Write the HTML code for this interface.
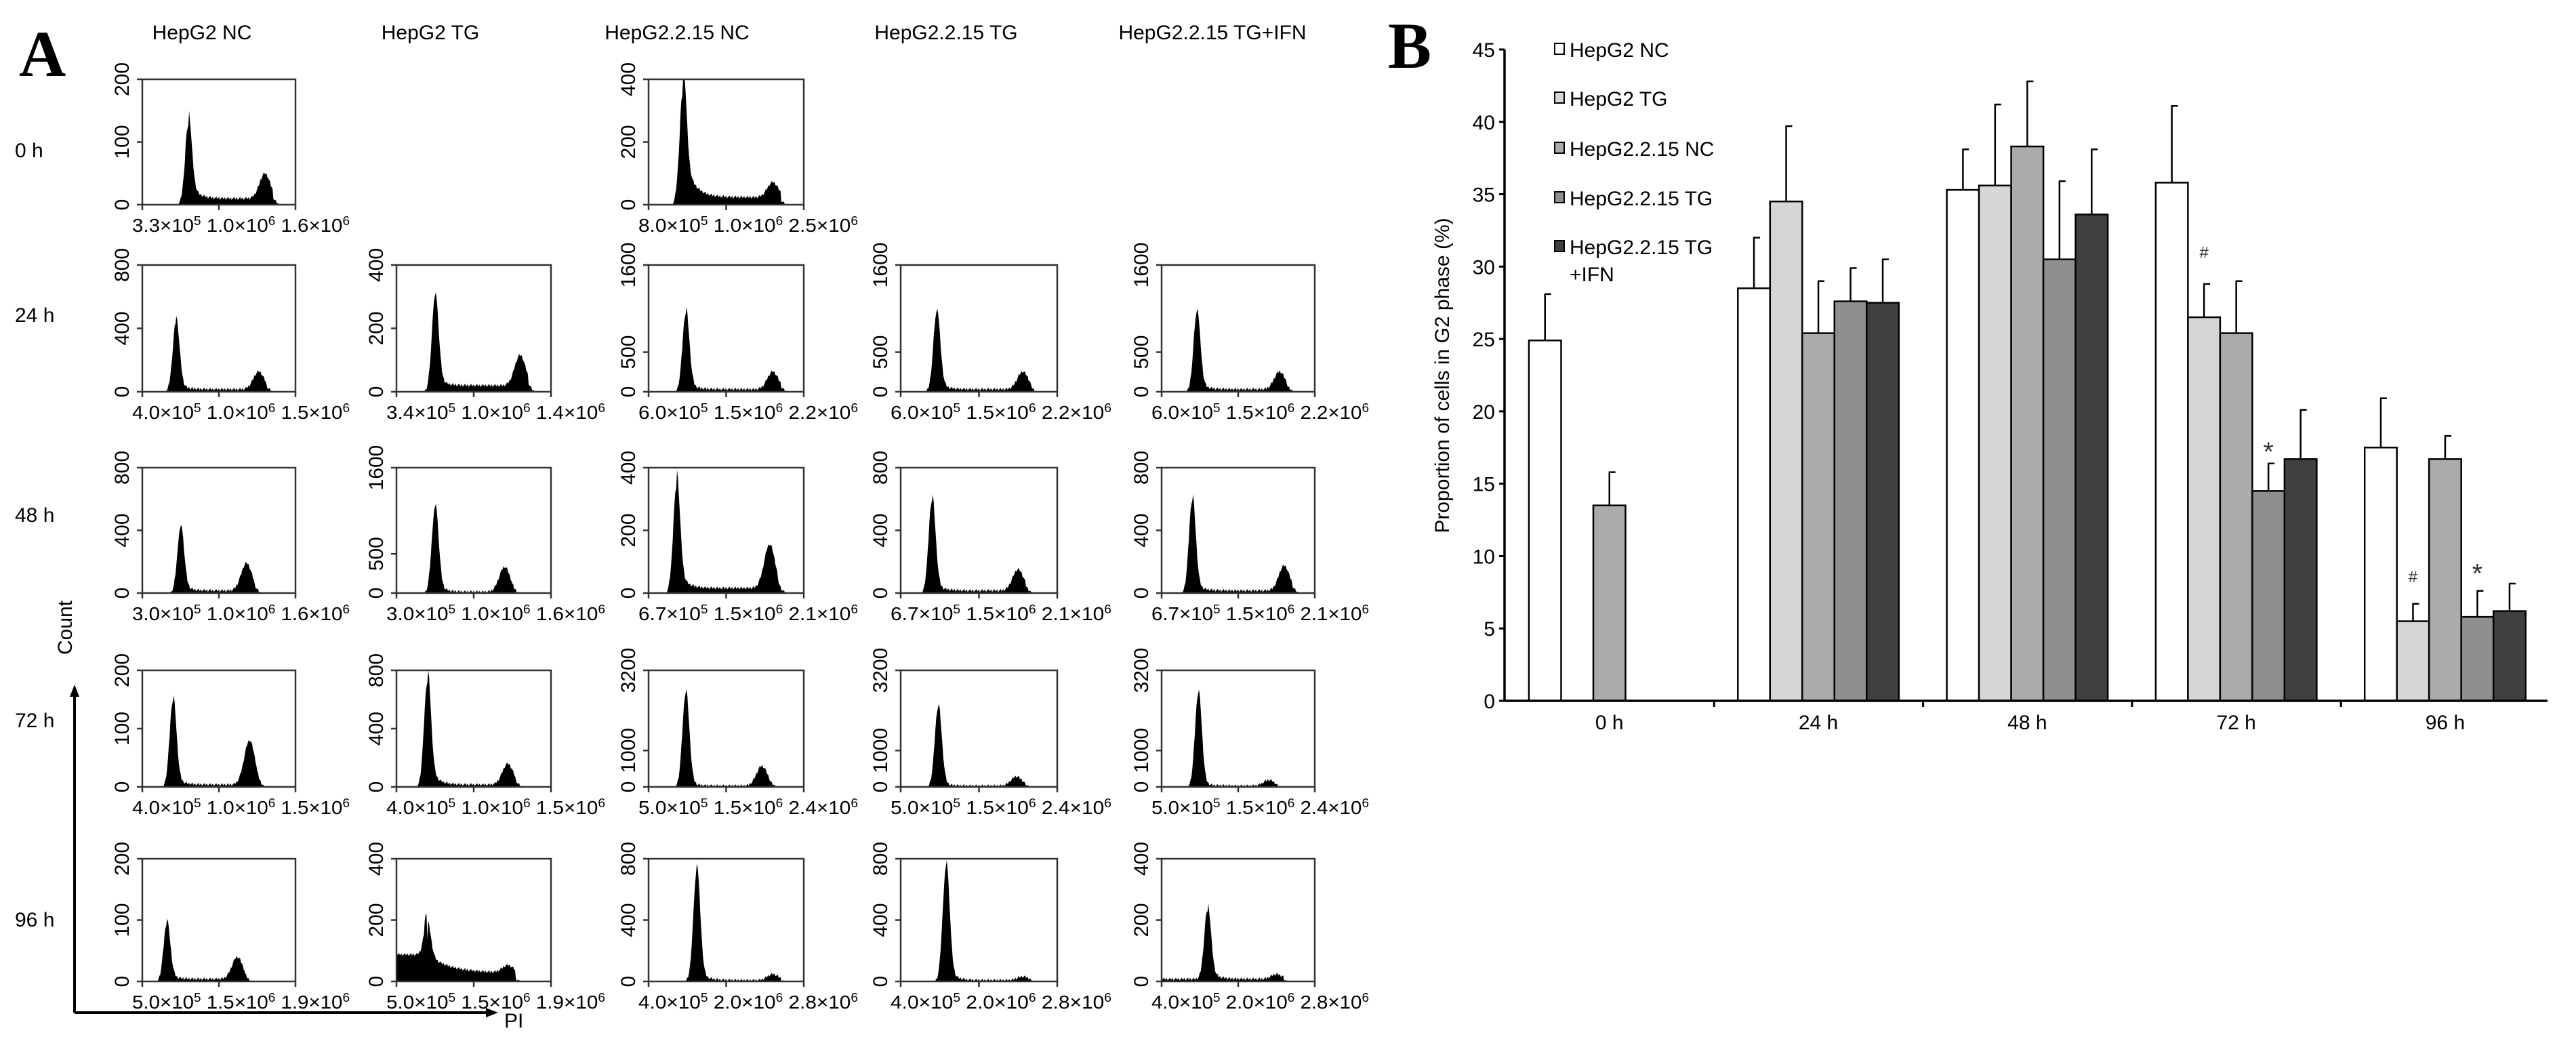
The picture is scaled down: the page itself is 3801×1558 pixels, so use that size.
<!DOCTYPE html>
<html><head><meta charset="utf-8"><style>
html,body{margin:0;padding:0;background:#fff;}
svg{display:block;font-family:"Liberation Sans",Arial,sans-serif;}
</style></head><body>
<svg id="fig" width="3801" height="1558" viewBox="0 0 3801 1558" xmlns="http://www.w3.org/2000/svg">
<rect width="3801" height="1558" fill="#fff"/>
<text x="28" y="112" font-family="Liberation Serif,serif" font-weight="bold" font-size="96">A</text>
<text x="2048" y="100" font-family="Liberation Serif,serif" font-weight="bold" font-size="96">B</text>
<g id="panelA"></g>
<g id="panelB"></g>
</svg>
<script>
// ---------- Panel A data ----------
const colTitles = ["HepG2 NC","HepG2 TG","HepG2.2.15 NC","HepG2.2.15 TG","HepG2.2.15 TG+IFN"];
const rowTitles = ["0 h","24 h","48 h","72 h","96 h"];
const yMax = [[200,null,400,null,null],[800,400,1600,1600,1600],[800,1600,400,800,800],[200,800,3200,3200,3200],[200,400,800,800,400]];
const yMid = [[100,null,200,null,null],[400,200,500,500,500],[400,500,200,400,400],[100,400,1000,1000,1000],[100,200,400,400,200]];
const xLabels = [
 [["3.3","5","1.0","6","1.6","6"],null,["8.0","5","1.0","6","2.5","6"],null,null],
 [["4.0","5","1.0","6","1.5","6"],["3.4","5","1.0","6","1.4","6"],["6.0","5","1.5","6","2.2","6"],["6.0","5","1.5","6","2.2","6"],["6.0","5","1.5","6","2.2","6"]],
 [["3.0","5","1.0","6","1.6","6"],["3.0","5","1.0","6","1.6","6"],["6.7","5","1.5","6","2.1","6"],["6.7","5","1.5","6","2.1","6"],["6.7","5","1.5","6","2.1","6"]],
 [["4.0","5","1.0","6","1.5","6"],["4.0","5","1.0","6","1.5","6"],["5.0","5","1.5","6","2.4","6"],["5.0","5","1.5","6","2.4","6"],["5.0","5","1.5","6","2.4","6"]],
 [["5.0","5","1.5","6","1.9","6"],["5.0","5","1.5","6","1.9","6"],["4.0","5","2.0","6","2.8","6"],["4.0","5","2.0","6","2.8","6"],["4.0","5","2.0","6","2.8","6"]]
];
// peaks: [G1 pos, G1 height, G2 pos, G2 height, S-level, tail amp, tail decay, left plateau]
const peaks = [
 [[0.30,0.58,0.80,0.20,0.05,0.25,0.05,0],null,[0.22,0.82,0.80,0.12,0.06,0.45,0.06,0],null,null],
 [[0.22,0.53,0.76,0.14,0.02,0.1,0.05,0],[0.25,0.70,0.80,0.24,0.05,0.1,0.05,0],[0.24,0.60,0.80,0.14,0.02,0.1,0.05,0],[0.23,0.60,0.78,0.14,0.02,0.1,0.05,0],[0.23,0.60,0.77,0.14,0.02,0.1,0.05,0]],
 [[0.25,0.50,0.68,0.22,0.02,0.1,0.05,0],[0.25,0.67,0.70,0.20,0.01,0.1,0.05,0],[0.18,0.80,0.78,0.35,0.04,0.2,0.05,0],[0.20,0.72,0.75,0.17,0.02,0.1,0.05,0],[0.20,0.72,0.80,0.20,0.02,0.1,0.05,0]],
 [[0.20,0.72,0.70,0.38,0.02,0.1,0.05,0],[0.20,0.88,0.72,0.18,0.02,0.2,0.05,0],[0.24,0.80,0.73,0.17,0.01,0.05,0.05,0],[0.24,0.68,0.74,0.08,0.01,0.05,0.05,0],[0.24,0.80,0.70,0.05,0.01,0.05,0.05,0]],
 [[0.16,0.45,0.62,0.18,0.02,0.1,0.05,0],[0.20,0.28,0.72,0.06,0.07,0.55,0.14,0.22],[0.31,0.88,0.80,0.05,0.01,0.1,0.05,0],[0.29,0.92,0.78,0.03,0.01,0.1,0.05,0],[0.30,0.55,0.75,0.04,0.02,0.15,0.05,0.02]]
];
const colX = [[210,436],[585,813],[957,1186],[1329,1560],[1714,1940]];
const rowY = [[117,302],[391,578],[690,875],[989,1161],[1267,1448]];
const titleX = [298,635,999,1396,1789];
const rowLabelY = [232,475,770,1073,1367];
const NS="http://www.w3.org/2000/svg";
function mk(tag,attrs,parent){const e=document.createElementNS(NS,tag);for(const k in attrs)e.setAttribute(k,attrs[k]);parent.appendChild(e);return e;}
const A=document.getElementById('panelA');
colTitles.forEach((t,i)=>{const e=mk('text',{x:titleX[i],y:58,'font-size':30,'text-anchor':'middle'},A);e.textContent=t;
 
 });
rowTitles.forEach((t,i)=>{const e=mk('text',{x:22,y:rowLabelY[i],'font-size':30},A);e.textContent=t;
 
 });
for(let r=0;r<5;r++)for(let c=0;c<5;c++){
 if(!peaks[r][c])continue;
 const [x0,x1]=colX[c]; const [y0,y1]=rowY[r]; const w=x1-x0,h=y1-y0;
 const g=mk('g',{},A);
 
 
 const p=peaks[r][c];
 let d=`M${x0},${y1}`;
 const N=180;
 for(let i=0;i<=N;i++){
  const f=i/N; const s1=0.022,s2=0.035;
  let v=p[1]*Math.exp(-((f-p[0])**2)/(2*s1*s1));
  if(f>p[0]) v+=p[1]*p[5]*Math.exp(-(f-p[0])/p[6])*(f<p[2]+0.1?1:0);
  v+=p[3]*Math.exp(-((f-p[2])**2)/(2*s2*s2));
  if(f>p[0]-0.02&&f<p[2]+0.05) v+=p[4];
  if(f<p[0]) v+=p[7];
  const jit=((i*37)%7-3)*0.004*(v>0.01?1:0);
  v=Math.max(0,Math.min(1,v+jit));
  d+=` L${(x0+f*w).toFixed(1)},${(y1-v*h).toFixed(1)}`;
 }
 d+=` L${x1},${y1} Z`;
 const hist=mk('path',{d:d,fill:'#000'},g);
 
 
 const box=mk('path',{d:`M${x0},${y1} L${x0},${y0} L${x1},${y0} L${x1},${y1} Z`,fill:'none',stroke:'#333','stroke-width':2.5},g);
 
 
 const ym=y1-yMid[r][c]/yMax[r][c]*h;
 [[y1,'0'],[ym,String(yMid[r][c])],[y0,String(yMax[r][c])]].forEach(([yy,lab])=>{
  mk('line',{x1:x0-8,x2:x0,y1:yy,y2:yy,stroke:'#333','stroke-width':2.5},g);
  const t=mk('text',{x:0,y:0,'font-size':30,'text-anchor':'middle',transform:`translate(${x0-20},${yy}) rotate(-90)`},g);t.textContent=lab;
  
  
 });
 [0,0.5,1].forEach(f=>mk('line',{x1:x0+f*w,x2:x0+f*w,y1:y1,y2:y1+8,stroke:'#333','stroke-width':2.5},g));
 const L=xLabels[r][c];
 const t=mk('text',{x:x0-15,y:y1+40,'font-size':28,textLength:w+95,lengthAdjust:'spacingAndGlyphs'},g);
 
 
 t.innerHTML=`${L[0]}×10<tspan dy="-10" font-size="18">${L[1]}</tspan><tspan dy="10"> ${L[2]}×10</tspan><tspan dy="-10" font-size="18">${L[3]}</tspan><tspan dy="10"> ${L[4]}×10</tspan><tspan dy="-10" font-size="18">${L[5]}</tspan>`;
}
// big axes arrows
const ax=mk('g',{},A);


mk('path',{d:'M110,1494 L110,1022 M110,1494 L722,1494',stroke:'#000','stroke-width':4,fill:'none'},ax);
mk('path',{d:'M110,1010 L103,1028 L117,1028 Z M735,1494 L717,1487 L717,1501 Z',fill:'#000'},ax);
const ct=mk('text',{'font-size':30,'text-anchor':'middle',transform:'translate(106,926) rotate(-90)'},ax);ct.textContent='Count';


const pi=mk('text',{x:744,y:1516,'font-size':30},ax);pi.textContent='PI';



// ---------- Panel B data ----------
const groups = ["0 h","24 h","48 h","72 h","96 h"];
const seriesNames = ["HepG2 NC","HepG2 TG","HepG2.2.15 NC","HepG2.2.15 TG","HepG2.2.15 TG+IFN"];
const sNC   = [24.9,28.5,35.3,35.8,17.5];
const sTG   = [null,34.5,35.6,26.5,5.5];
const s215NC= [13.5,25.4,38.3,25.4,16.7];
const s215TG= [null,27.6,30.5,14.5,5.8];
const sIFN  = [null,27.5,33.6,16.7,6.2];
const eNC   = [28.1,32.0,38.1,41.1,20.9];
const eTG   = [null,39.7,41.2,28.8,6.7];
const e215NC= [15.8,29.0,42.8,29.0,18.3];
const e215TG= [null,29.9,35.9,16.4,7.6];
const eIFN  = [null,30.5,38.1,20.1,8.1];
const yTicks = [0,5,10,15,20,25,30,35,40,45];
const colors = ["#ffffff","#d6d6d6","#ababab","#8f8f8f","#404040"];
const B=document.getElementById('panelB');
const X0=2220,XE=3759,Y0=1034,Y45=73;
const yS=v=>Y0-(v/45)*(Y0-Y45);
const groupW=308.3, barW=47.5, gStart=2256;
const xB=(g,s)=>gStart+g*groupW+s*barW;
const vals=[sNC,sTG,s215NC,s215TG,sIFN], errs=[eNC,eTG,e215NC,e215TG,eIFN];
vals.forEach((arr,s)=>arr.forEach((v,g)=>{
 if(v==null)return;
 const x=xB(g,s);
 const bar=mk('rect',{x:x,y:yS(v),width:barW,height:Y0-yS(v),fill:colors[s],stroke:'#000','stroke-width':2.5},B);
 
 
 const e=errs[s][g];
 const eb=mk('path',{d:`M${x+barW/2},${yS(v)} L${x+barW/2},${yS(e)} M${x+barW/2-1},${yS(e)} L${x+barW/2+9},${yS(e)}`,stroke:'#000','stroke-width':2.5,fill:'none'},B);
 
 
}));
mk('path',{d:`M${X0},${Y45} L${X0},${Y0} L${XE},${Y0}`,stroke:'#000','stroke-width':3.5,fill:'none'},B);
yTicks.forEach(t=>{
 mk('line',{x1:X0-8,x2:X0,y1:yS(t),y2:yS(t),stroke:'#000','stroke-width':3},B);
 const e=mk('text',{x:X0-14,y:yS(t)+11,'font-size':30,'text-anchor':'end'},B);e.textContent=t;
 
 
});
groups.forEach((gname,g)=>{
 const cx=xB(g,2.5);
 const e=mk('text',{x:cx,y:Y0+42,'font-size':30,'text-anchor':'middle'},B);e.textContent=gname;
 
 
 if(g>0)mk('line',{x1:xB(g,0)-35,x2:xB(g,0)-35,y1:Y0,y2:Y0+9,stroke:'#000','stroke-width':3},B);
});
const yt=mk('text',{'font-size':30,'text-anchor':'middle',transform:'translate(2138,554) rotate(-90)'},B);yt.textContent='Proportion of cells in G2 phase (%)';


// significance marks
[["#",3,1,30.6,24],["*",3,3,17.6,40],["#",4,1,8.2,24],["*",4,3,9.2,40]].forEach(([ch,g,s,v,fs])=>{
 const e=mk('text',{x:xB(g,s)+barW/2,y:yS(v)+(ch=='*'?22:0),'font-size':fs,'text-anchor':'middle',fill:'#333'},B);e.textContent=ch;
 
 
});
// legend
const legY=[73,145,219,292,364];
seriesNames.forEach((n,i)=>{
 const g=mk('g',{},B);
 
 
 mk('rect',{x:2294,y:legY[i]-9,width:14,height:16,fill:colors[i],stroke:'#000','stroke-width':2},g);
 const t=mk('text',{x:2316,y:legY[i]+11,'font-size':30},g);
 t.textContent = i==4 ? 'HepG2.2.15 TG' : n;
 if(i==4){const t2=mk('text',{x:2316,y:legY[i]+51,'font-size':30},g);t2.textContent='+IFN';}
});
</script>
</body></html>
